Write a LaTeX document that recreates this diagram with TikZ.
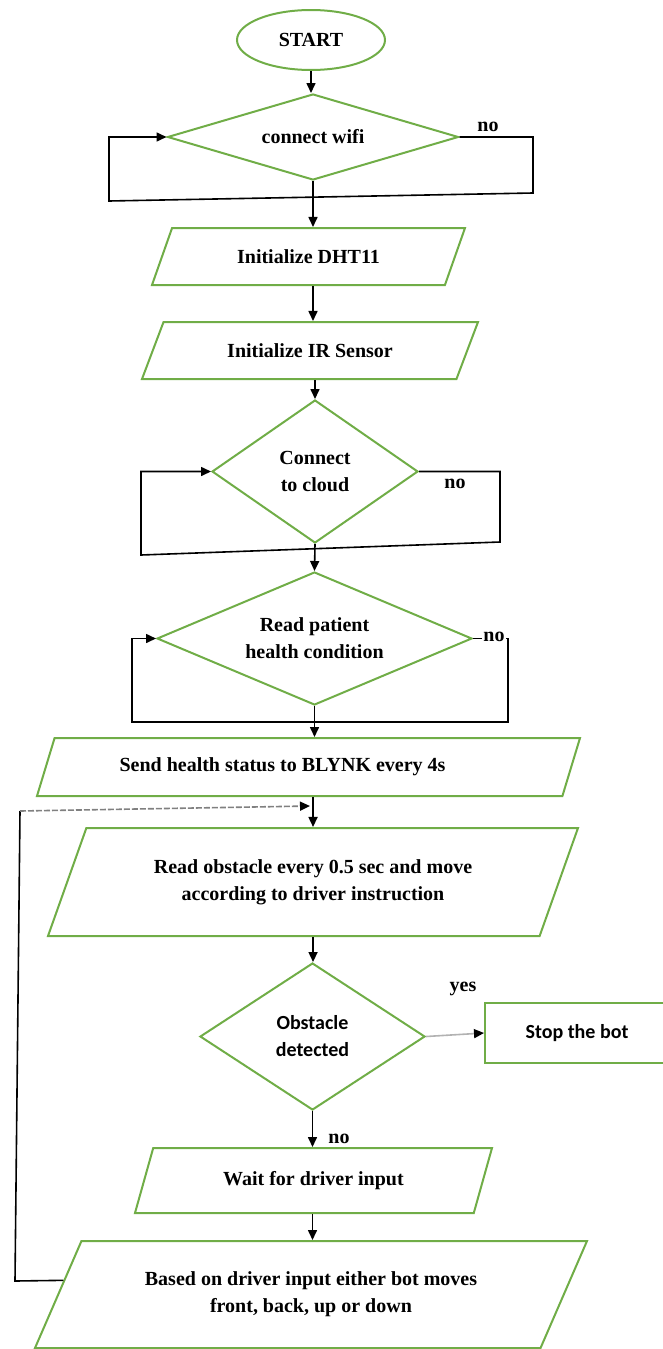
\documentclass[tikz,border=0pt]{standalone}
\usepackage{fontspec}
\setmainfont{Liberation Serif}
\newfontfamily\calibrifont{Carlito}
\usetikzlibrary{shapes.geometric,arrows.meta,calc}
\definecolor{flowgreen}{RGB}{112,173,71}
\newcommand\flowfont{\fontsize{10}{13.5}\selectfont\bfseries}
\tikzset{
  greenline/.style={draw=flowgreen, line width=1pt},
  startstop/.style={ellipse, greenline, minimum width=74pt, minimum height=30pt, font=\flowfont},
  decision/.style={diamond, greenline, inner sep=0pt, font=\flowfont, align=center},
  iobox/.style={trapezium, greenline, trapezium stretches body, inner sep=1pt, font=\flowfont, align=center,
    trapezium left angle=#1, trapezium right angle={180-#1}},
  arrow/.style={line width=0.8pt, -{Triangle[length=5pt,width=4.5pt]}},
  loopline/.style={line width=0.8pt},
  lbl/.style={font=\flowfont, inner sep=1pt},
}
\begin{document}
\begin{tikzpicture}[x=0.5pt,y=-0.5pt]
  \useasboundingbox (0,0) rectangle (663,1349);
  \clip (0,0) rectangle (663,1349);
  % blocks
  \node[startstop] (start) at (311,40) {START};
  \node[decision, aspect=3.38, minimum width=145.5pt, minimum height=43pt] (wifi) at (313,137) {connect wifi};
  \node[iobox=42, minimum width=156.5pt, minimum height=28.5pt] (dht) at (308.5,256.5) {Initialize DHT11};
  \node[iobox=40, minimum width=168pt, minimum height=28.5pt] (ir) at (310,350.5) {Initialize IR Sensor};
  \node[decision, aspect=1.44, minimum width=103pt, minimum height=71.5pt] (cloud) at (315,471.5) {Connect\\to cloud};
  \node[decision, aspect=2.37, minimum width=157.5pt, minimum height=66.5pt] (patient) at (314.5,638.5) {Read patient\\health condition};
  \node[iobox=51.6, minimum width=271.5pt, minimum height=29pt] (send) at (308.5,767) {Send health status to BLYNK every 4s\hspace*{26pt}};
  \node[iobox=52.1, minimum width=265pt, minimum height=54pt] (obst) at (313,882) {Read obstacle every 0.5 sec and move\\according to driver instruction};
  \node[decision, aspect=1.53, font=\fontsize{10}{13.5}\selectfont\calibrifont\bfseries, minimum width=112.5pt, minimum height=73.5pt] (det) at (312.5,1036.5) {Obstacle\\detected};
  \node[rectangle, greenline, minimum width=92pt, minimum height=30pt, font=\calibrifont\bfseries] (stop) at (577,1033) {Stop the bot};
  \node[iobox=50.8, minimum width=178.5pt, minimum height=32.5pt] (wait) at (313.5,1180.5) {Wait for driver input};
  \node[iobox=46.6, minimum width=276pt, minimum height=53.5pt] (based) at (311,1294.5) {Based on driver input either bot moves\\front, back, up or down};
  % main flow
  \draw[arrow] (start.south) -- (start.south |- wifi.north);
  \draw[arrow] (wifi.south) -- (wifi.south |- dht.north);
  \draw[arrow] (wifi.south |- dht.south) -- (wifi.south |- ir.north);
  \draw[arrow] (cloud.north |- ir.south) -- (cloud.north);
  \draw[arrow] (cloud.south) -- (patient.north);
  \draw[arrow] (patient.south) -- (patient.south |- send.north);
  \draw[arrow] (obst.north |- send.south) -- (obst.north);
  \draw[arrow] (obst.south) -- (obst.south |- det.north);
  \draw[arrow] (det.south) -- (det.south |- wait.north);
  \draw[arrow] (det.south |- wait.south) -- (det.south |- based.north);
  \draw[line width=0.8pt, draw=gray!60, -{Triangle[length=5pt,width=4.5pt,color=black]}] (det.east) -- (stop.west);
  % retry loops
  \draw[arrow] (wifi.east) -- (533,137) -- (533,193) -- (109,201) -- (109,137) -- (wifi.west);
  \draw[arrow] (cloud.east) -- (500,471.5) -- (500,542) -- (141,555) -- (141,471.5) -- (cloud.west);
  \draw[arrow] (patient.east) -- (508,638.5) -- (508,722) -- (132,722) -- (132,638.5) -- (patient.west);
  \node[lbl] (nowifi) at (488,127) {no};
  \node[lbl] (nocloud) at (455,484) {no};
  \node[lbl, fill=white, inner xsep=0.5pt] (nopatient) at (494,637) {no};
  \node[lbl] (yesdet) at (463,989) {yes};
  \node[lbl] (nodet) at (339,1139) {no};
  % back to reading obstacles
  \coordinate (backin) at (310,806);
  \coordinate (leftup) at (20,811);
  \coordinate (leftdown) at (15,1281);
  \draw[loopline] ($(based.top left corner)!0.37!(based.bottom left corner)$) -- (leftdown) -- (leftup);
  \draw[line width=0.8pt, draw=gray, dashed, dash pattern=on 3pt off 1pt, -{Triangle[length=5pt,width=4.5pt,color=black]}] (leftup) -- (backin);
\end{tikzpicture}
\end{document}
